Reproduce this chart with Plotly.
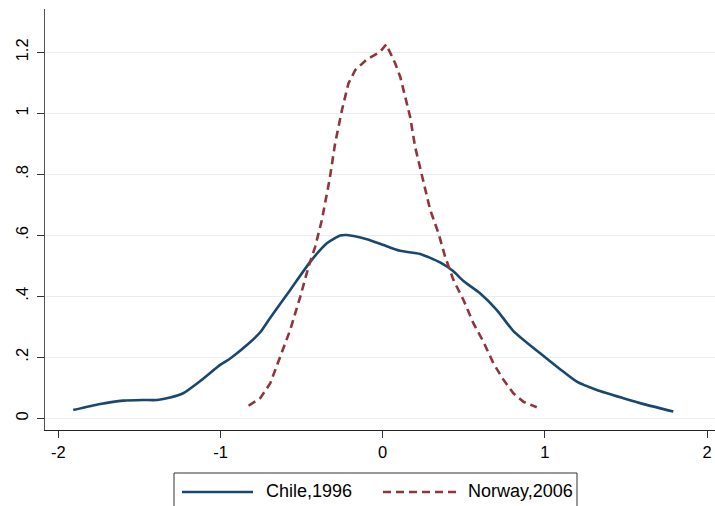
import plotly.graph_objects as go

chile_x = [-1.908, -1.741, -1.60, -1.476, -1.39, -1.31, -1.23, -1.125, -1.002, -0.94,
           -0.837, -0.755, -0.693, -0.570, -0.447, -0.344, -0.262, -0.221, -0.097, 0.005, 0.108,
           0.231, 0.354, 0.436, 0.498, 0.60, 0.704, 0.806, 0.971, 1.094, 1.197,
           1.32, 1.484, 1.628, 1.792]
chile_y = [0.027, 0.047, 0.058, 0.060, 0.060, 0.068, 0.082, 0.122, 0.175, 0.196,
           0.240, 0.282, 0.330, 0.421, 0.513, 0.574, 0.599, 0.601, 0.587, 0.568, 0.549,
           0.539, 0.511, 0.482, 0.450, 0.41, 0.355, 0.286, 0.213, 0.161, 0.12,
           0.093, 0.066, 0.044, 0.022]

norway_x = [-0.827, -0.755, -0.693, -0.632, -0.570, -0.508, -0.457, -0.416, -0.375, -0.328,
            -0.293, -0.251, -0.211, -0.169, -0.097, -0.015, 0.022, 0.077, 0.108, 0.139,
            0.169, 0.2, 0.242, 0.293, 0.344, 0.385, 0.436, 0.498, 0.56, 0.621,
            0.683, 0.745, 0.806, 0.868, 0.950]
norway_y = [0.041, 0.066, 0.115, 0.202, 0.29, 0.399, 0.497, 0.563, 0.65, 0.781,
            0.902, 1.011, 1.098, 1.142, 1.177, 1.202, 1.226, 1.164, 1.12, 1.054,
            0.989, 0.89, 0.798, 0.683, 0.607, 0.53, 0.454, 0.388, 0.311, 0.251,
            0.18, 0.126, 0.082, 0.054, 0.036]

x_ticks = [-2, -1, 0, 1, 2]
x_tick_labels = ["-2", "-1", "0", "1", "2"]
y_ticks = [0, 0.2, 0.4, 0.6, 0.8, 1.0, 1.2]
y_tick_labels = ["0", ".2", ".4", ".6", ".8", "1", "1.2"]

series_names = ["Chile,1996", "Norway,2006"]
series_colors = ["#1a476f", "#90353b"]
series_dashes = ["solid", "8px,5px"]

FONT = "Liberation Sans, Arial, sans-serif"

fig = go.Figure()
fig.add_trace(go.Scatter(x=chile_x, y=chile_y, mode="lines", name=series_names[0],
                         line=dict(color=series_colors[0], width=2.6, shape="spline",
                                   smoothing=0.6),
                         showlegend=False))
fig.add_trace(go.Scatter(x=norway_x, y=norway_y, mode="lines", name=series_names[1],
                         line=dict(color=series_colors[1], width=2.6, dash=series_dashes[1]),
                         showlegend=False))

# Stata-style legend box below the plot (paper coordinates)
L, R, T, B = 45.0, 715.0, 9.0, 430.0
W, H = R - L, B - T
px = lambda v: (v - L) / W
py = lambda v: (B - v) / H

fig.add_shape(type="rect", xref="paper", yref="paper",
              x0=px(174), x1=px(577), y0=py(520), y1=py(473),
              line=dict(color="#333333", width=1), fillcolor="white", layer="above")
sample_starts = [182, 383]
sample_ends = [253, 457]
text_starts = [265, 467]
for i in range(2):
    fig.add_shape(type="line", xref="paper", yref="paper",
                  x0=px(sample_starts[i]), x1=px(sample_ends[i]), y0=py(492), y1=py(492),
                  line=dict(color=series_colors[i], width=2.6, dash=series_dashes[i]))
    fig.add_annotation(xref="paper", yref="paper", x=px(text_starts[i]), y=py(491.5),
                       xanchor="left", yanchor="middle", text=series_names[i],
                       showarrow=False, borderpad=0,
                       font=dict(size=18, family=FONT, color="black"))

fig.update_layout(
    width=715, height=506,
    margin=dict(l=45, r=0, t=9, b=76),
    paper_bgcolor="white", plot_bgcolor="white",
    font=dict(family=FONT, color="black", size=16),
    showlegend=False,
)
fig.update_xaxes(range=[-2.082, 2.049], tickvals=x_ticks, ticktext=x_tick_labels,
                 showgrid=False, zeroline=False, showline=True, linecolor="#222222",
                 linewidth=1, ticks="outside", ticklen=7, tickcolor="#333333",
                 tickfont=dict(size=16.5, family=FONT))
fig.update_yaxes(range=[-0.0384, 1.342], tickvals=y_ticks, ticktext=y_tick_labels,
                 showgrid=True, gridcolor="#e7eef1", gridwidth=1, zeroline=False,
                 showline=True, linecolor="#555555", linewidth=1, ticks="outside",
                 ticklen=7, tickcolor="#333333", tickangle=-90, ticklabelstandoff=2,
                 tickfont=dict(size=16.5, family=FONT))

fig.write_html("out.html")
